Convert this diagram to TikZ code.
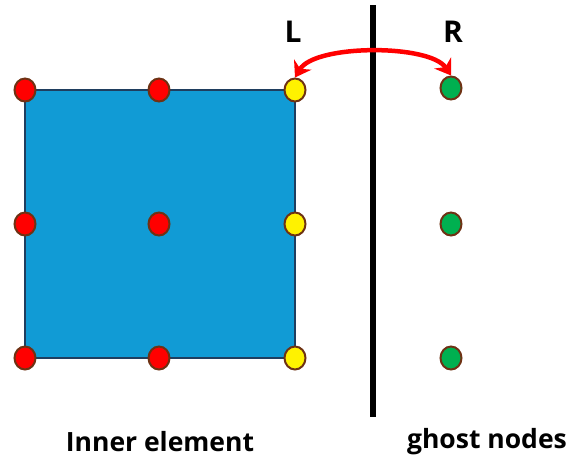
\documentclass[tikz,border=0pt]{standalone}
\usepackage{fontspec}
\setmainfont{Open Sans}
\usetikzlibrary{arrows.meta,shapes.geometric}
\definecolor{boxblue}{RGB}{17,155,213}
\definecolor{boxedge}{RGB}{31,62,95}
\definecolor{dotedge}{RGB}{110,50,20}
\definecolor{ghostgreen}{RGB}{0,176,80}
\tikzset{
  dot/.style={ellipse,draw=dotedge,line width=2pt,minimum width=21pt,minimum height=23pt,inner sep=0pt},
  reddot/.style={dot,fill=red},
  yellowdot/.style={dot,fill=yellow},
  greendot/.style={dot,fill=ghostgreen},
  lbl/.style={font=\bfseries\fontsize{26.5}{30}\selectfont},
  biglbl/.style={font=\bfseries\fontsize{30}{34}\selectfont},
}
\begin{document}
\begin{tikzpicture}[x=1pt,y=-1pt]
\useasboundingbox (0,0) rectangle (587,463);
\fill[boxblue,draw=boxedge,line width=1.5pt] (25,90) rectangle (295,358);
\node[reddot] (a1) at (25,90) {};
\node[reddot] (a2) at (159,90) {};
\node[yellowdot] (a3) at (295,90) {};
\node[reddot] (b1) at (25,224) {};
\node[reddot] (b2) at (159,224) {};
\node[yellowdot] (b3) at (295,224) {};
\node[reddot] (c1) at (25,358) {};
\node[reddot] (c2) at (159,358) {};
\node[yellowdot] (c3) at (295,358) {};
\node[greendot] (g1) at (451,88) {};
\node[greendot] (g2) at (451,224) {};
\node[greendot] (g3) at (451,358) {};
\coordinate (top) at (373,5);
\coordinate (bot) at (373,417);
\draw[line width=6pt] (top) -- (bot);
\draw[red,line width=4.5pt,{Stealth[length=15pt,width=20pt]}-{Stealth[length=15pt,width=20pt]}]
  (a3.north) .. controls (315,44) and (430,44) .. (g1.north);
\node[biglbl] (L) at (293,32) {L};
\node[biglbl] (R) at (453,32) {R};
\node[lbl] (inner) at (160,442) {Inner element};
\node[lbl] (ghost) at (487,442) {ghost nodes};
\end{tikzpicture}
\end{document}
